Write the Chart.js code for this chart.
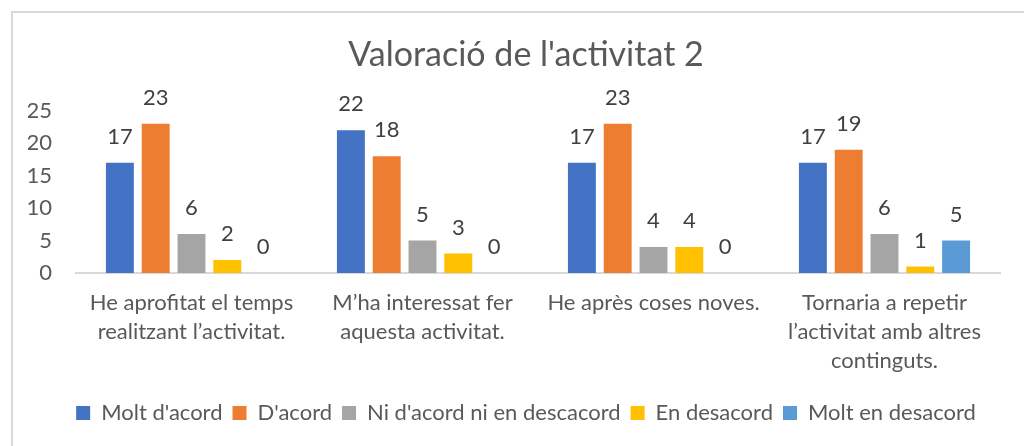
<!DOCTYPE html>
<html>
<head>
<meta charset="utf-8">
<script src="https://cdn.jsdelivr.net/npm/chart.js@4.4.1/dist/chart.umd.min.js"></script>
<style>
  html, body { margin: 0; padding: 0; background: #fff; }
  #wrap { position: relative; width: 1024px; height: 446px; overflow: hidden; }
  #frame { position: absolute; left: 11px; top: 11px; width: 1100px; height: 500px;
           border-left: 2px solid #d9d9d9; border-top: 2px solid #d9d9d9; }
  canvas { position: absolute; left: 0; top: 0; }
</style>
</head>
<body>
<div id="wrap">
  <div id="frame"></div>
  <canvas id="chart" width="1024" height="446"></canvas>
</div>
<script>
// ===== Valoració de l'activitat 2 =====

const categories = [
  ['He aprofitat el temps', 'realitzant l\u2019activitat.'],
  ['M\u2019ha interessat fer', 'aquesta activitat.'],
  ['He après coses noves.'],
  ['Tornaria a repetir', 'l\u2019activitat amb altres', 'continguts.']
];

const seriesNames = ["Molt d'acord", "D'acord", "Ni d'acord ni en descacord", 'En desacord', 'Molt en desacord'];
const seriesColors = ['#4472C4', '#ED7D31', '#A5A5A5', '#FFC000', '#5B9BD5'];

const moltAcord = [17, 22, 17, 17];
const acord = [23, 18, 23, 19];
const niAcord = [6, 5, 4, 6];
const desacord = [2, 3, 4, 1];
const moltDesacord = [0, 0, 0, 5];

const yTicks = [0, 5, 10, 15, 20, 25];

const FONT = 'Lato, "Open Sans", sans-serif';
const TEXT = '#595959';

// draws the value above each bar (no datalabels plugin offline)
const valueLabels = {
  id: 'valueLabels',
  afterDatasetsDraw(chart) {
    const ctx = chart.ctx;
    ctx.save();
    ctx.font = '22px ' + FONT;
    ctx.fillStyle = '#404040';
    ctx.textAlign = 'center';
    ctx.textBaseline = 'middle';
    chart.data.datasets.forEach((ds, i) => {
      const meta = chart.getDatasetMeta(i);
      meta.data.forEach((bar, j) => {
        ctx.fillText(String(ds.data[j]), bar.x, bar.y - 26);
      });
    });
    ctx.restore();
  }
};

const allSeries = [moltAcord, acord, niAcord, desacord, moltDesacord];

new Chart(document.getElementById('chart').getContext('2d'), {
  type: 'bar',
  data: {
    labels: categories,
    datasets: allSeries.map((vals, i) => ({
      label: seriesNames[i],
      data: vals,
      backgroundColor: seriesColors[i],
      borderWidth: 0,
      barPercentage: 0.78,
      categoryPercentage: 0.775
    }))
  },
  plugins: [valueLabels],
  options: {
    responsive: false, animation: false,
    layout: { padding: { left: 28, right: 0, top: 0, bottom: 12 } },
    plugins: {
      title: {
        display: true, text: "Valoració de l'activitat 2",
        color: TEXT, font: { family: FONT, size: 34, weight: 'normal' },
        padding: { top: 35, bottom: 35 }
      },
      legend: {
        position: 'bottom',
        labels: { color: TEXT, font: { family: FONT, size: 22 }, boxWidth: 14, boxHeight: 14, padding: 10 }
      },
      tooltip: { enabled: false }
    },
    scales: {
      x: {
        grid: { display: false, drawTicks: false },
        border: { color: '#d9d9d9', width: 2 },
        ticks: { color: TEXT, font: { family: FONT, size: 22, lineHeight: 1.32 }, padding: 15, maxRotation: 0, autoSkip: false },
        afterFit(scale) { scale.height = 119; }
      },
      y: {
        min: 0, max: 25,
        grid: { display: false, drawTicks: false },
        border: { display: false },
        afterBuildTicks(scale) { scale.ticks = yTicks.map(v => ({ value: v })); },
        ticks: { color: TEXT, font: { family: FONT, size: 22 }, padding: 24 },
        afterFit(scale) { scale.width = 48; }
      },
      // empty right margin axis so the chart area ends where the reference's does
      yRight: {
        type: 'linear', position: 'right', min: 0, max: 25,
        grid: { display: false, drawTicks: false },
        border: { display: false },
        ticks: { display: false },
        afterFit(scale) { scale.width = 24; }
      }
    }
  }
});
</script>
</body>
</html>
